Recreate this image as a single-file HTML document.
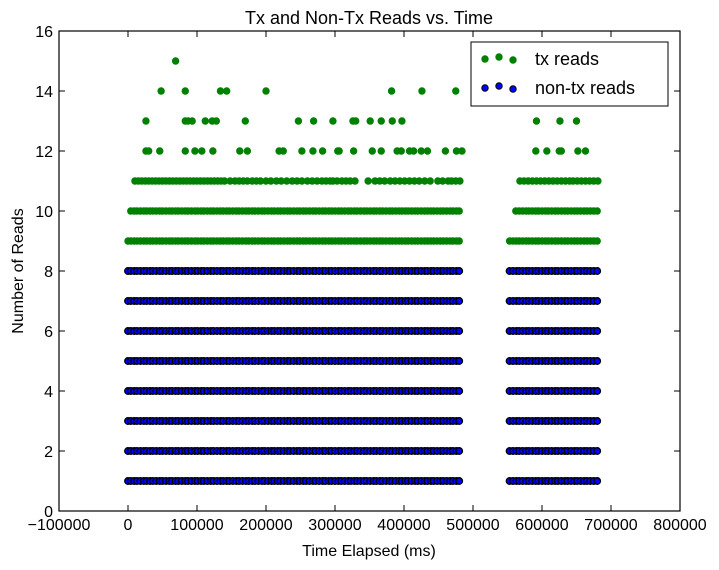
<!DOCTYPE html>
<html><head><meta charset="utf-8"><style>
html,body{margin:0;padding:0;background:#fff;}
svg{display:block;font-family:"Liberation Sans",sans-serif;}
</style></head><body>
<svg id="chart" width="719" height="570" viewBox="0 0 719 570">
<text x="369" y="24" text-anchor="middle" font-size="18">Tx and Non-Tx Reads vs. Time</text>
<g id="marks"></g>
<g id="axes"></g>
<text x="369" y="556" text-anchor="middle" font-size="16">Time Elapsed (ms)</text>
<text transform="translate(23,271) rotate(-90)" text-anchor="middle" font-size="16">Number of Reads</text>
<g>
<rect x="471" y="42" width="197" height="64" fill="#fff" stroke="#000" stroke-width="1"/>
<g>
<circle cx="485" cy="59" r="3.7" fill="#008000"/><circle cx="499" cy="57" r="3.7" fill="#008000"/><circle cx="513" cy="60" r="3.7" fill="#008000"/>
<text x="535" y="65" font-size="18">tx reads</text></g>
<g>
<circle cx="485" cy="88" r="3.2" fill="#0000ff" stroke="#000"/><circle cx="499" cy="86" r="3.2" fill="#0000ff" stroke="#000"/><circle cx="513" cy="89" r="3.2" fill="#0000ff" stroke="#000"/>
<text x="535" y="94" font-size="18">non-tx reads</text></g>
</g>
</svg>
<script>
const xTicks=[-100000,0,100000,200000,300000,400000,500000,600000,700000,800000];
const yTicks=[0,2,4,6,8,10,12,14,16];
const denseTimes=[0,4000,9000,13000,18000,23000,27000,32000,36000,41000,46000,50000,55000,60000,64000,69000,73000,78000,83000,87000,92000,97000,101000,106000,110000,115000,120000,124000,129000,134000,138000,143000,147000,152000,157000,161000,166000,171000,175000,180000,184000,189000,194000,198000,203000,208000,212000,217000,221000,226000,231000,235000,240000,245000,249000,254000,258000,263000,268000,272000,277000,282000,286000,291000,295000,300000,305000,309000,314000,319000,323000,328000,332000,337000,342000,346000,351000,356000,360000,365000,369000,374000,379000,383000,388000,393000,397000,402000,406000,411000,416000,420000,425000,430000,434000,439000,443000,448000,453000,457000,462000,467000,471000,476000,480000,
553000,558000,563000,567000,572000,577000,581000,586000,591000,595000,600000,605000,609000,614000,619000,623000,628000,633000,637000,642000,647000,651000,656000,661000,665000,670000,675000,680000];
const green10Times=[4000,9000,13000,18000,23000,27000,32000,36000,41000,46000,50000,55000,60000,64000,69000,73000,78000,83000,87000,92000,97000,101000,106000,110000,115000,120000,124000,129000,134000,138000,143000,147000,152000,157000,161000,166000,171000,175000,180000,184000,189000,194000,198000,203000,208000,212000,217000,221000,226000,231000,235000,240000,245000,249000,254000,258000,263000,268000,272000,277000,282000,286000,291000,295000,300000,305000,309000,314000,319000,323000,328000,332000,337000,342000,346000,351000,356000,360000,365000,369000,374000,379000,383000,388000,393000,397000,402000,406000,411000,416000,420000,425000,430000,434000,439000,443000,448000,453000,457000,462000,467000,471000,476000,480000,
562000,567000,572000,577000,581000,586000,591000,595000,600000,605000,609000,614000,619000,623000,628000,633000,637000,642000,647000,651000,656000,661000,665000,670000,675000,680000];
const green11Times=[10000,15000,20000,25000,30000,35000,40000,45000,50000,55000,60000,65000,70000,75000,80000,85000,90000,95000,100000,105000,110000,115000,120000,125000,130000,135000,140000,148000,155000,161000,167000,173000,180000,186000,192000,200000,207000,215000,222000,230000,238000,245000,252000,260000,267000,274000,281000,287000,293000,297000,303000,310000,316000,322000,329000,348000,358000,365000,372000,380000,387000,394000,401000,408000,415000,422000,430000,438000,449000,456000,464000,469000,475000,481000,
568000,574000,580000,586000,592000,598000,604000,610000,616000,622000,628000,634000,640000,645000,651000,657000,663000,669000,675000,681000];
const green12Times=[26000,30000,46000,83000,97000,107000,123000,162000,173000,219000,225000,252000,268000,282000,304000,306000,327000,354000,367000,390000,396000,408000,414000,425000,434000,460000,476000,484000,591000,607000,625000,628000,652000,663000];
const green13Times=[26000,83000,87000,93000,112000,122000,128000,170000,247000,269000,297000,326000,330000,351000,367000,383000,397000,592000,626000,650000];
const green14Times=[48000,83000,134000,143000,200000,382000,426000,475000];
const green15Times=[69000];
const blueLevels=[1,2,3,4,5,6,7,8];

const X0=59,X1=680,Y0=511,Y1=31;
const xs=v=>X0+(v-(-100000))/(900000)*(X1-X0);
const ys=v=>Y0-(v-0)/16*(Y0-Y1);
const NS='http://www.w3.org/2000/svg';
const marks=document.getElementById('marks');
const axes=document.getElementById('axes');

function greenRow(times,level){
  times.forEach(t=>{
    const c=document.createElementNS(NS,'circle');
    c.setAttribute('cx',xs(t));c.setAttribute('cy',ys(level));c.setAttribute('r',3.7);
    c.setAttribute('fill','#008000');
    
    
    marks.appendChild(c);
  });
}
greenRow(denseTimes,8);
greenRow(denseTimes,9);
greenRow(green10Times,10);
greenRow(green11Times,11);
greenRow(green12Times,12);
greenRow(green13Times,13);
greenRow(green14Times,14);
greenRow(green15Times,15);
blueLevels.forEach(level=>{
  denseTimes.forEach(t=>{
    const c=document.createElementNS(NS,'circle');
    c.setAttribute('cx',xs(t));c.setAttribute('cy',ys(level));c.setAttribute('r',3.3);
    c.setAttribute('fill','#0000ff');c.setAttribute('stroke','#000');c.setAttribute('stroke-width','1.3');
    
    
    marks.appendChild(c);
  });
});

const frame=document.createElementNS(NS,'rect');
frame.setAttribute('x',X0);frame.setAttribute('y',Y1);frame.setAttribute('width',X1-X0);frame.setAttribute('height',Y0-Y1);
frame.setAttribute('fill','none');frame.setAttribute('stroke','#000');frame.setAttribute('stroke-width','1.2');


axes.appendChild(frame);
function line(x1,y1,x2,y2){const l=document.createElementNS(NS,'line');l.setAttribute('x1',x1);l.setAttribute('y1',y1);l.setAttribute('x2',x2);l.setAttribute('y2',y2);l.setAttribute('stroke','#000');l.setAttribute('stroke-width','1');axes.appendChild(l);return l;}
xTicks.forEach(v=>{
  const x=xs(v);
  const a=line(x,Y0,x,Y0-6);
  
  
  const b=line(x,Y1,x,Y1+6);
  
  
  const t=document.createElementNS(NS,'text');
  t.setAttribute('x',x);t.setAttribute('y',Y0+19);t.setAttribute('text-anchor','middle');t.setAttribute('font-size','16');
  t.textContent=v<0?'\u2212'+Math.abs(v):String(v);
  
  
  axes.appendChild(t);
});
yTicks.forEach(v=>{
  const y=ys(v);
  const a=line(X0,y,X0+6,y);
  
  
  const b=line(X1,y,X1-6,y);
  
  
  const t=document.createElementNS(NS,'text');
  t.setAttribute('x',X0-6);t.setAttribute('y',y+6);t.setAttribute('text-anchor','end');t.setAttribute('font-size','16');
  t.textContent=String(v);
  
  
  axes.appendChild(t);
});
</script>
</body></html>
